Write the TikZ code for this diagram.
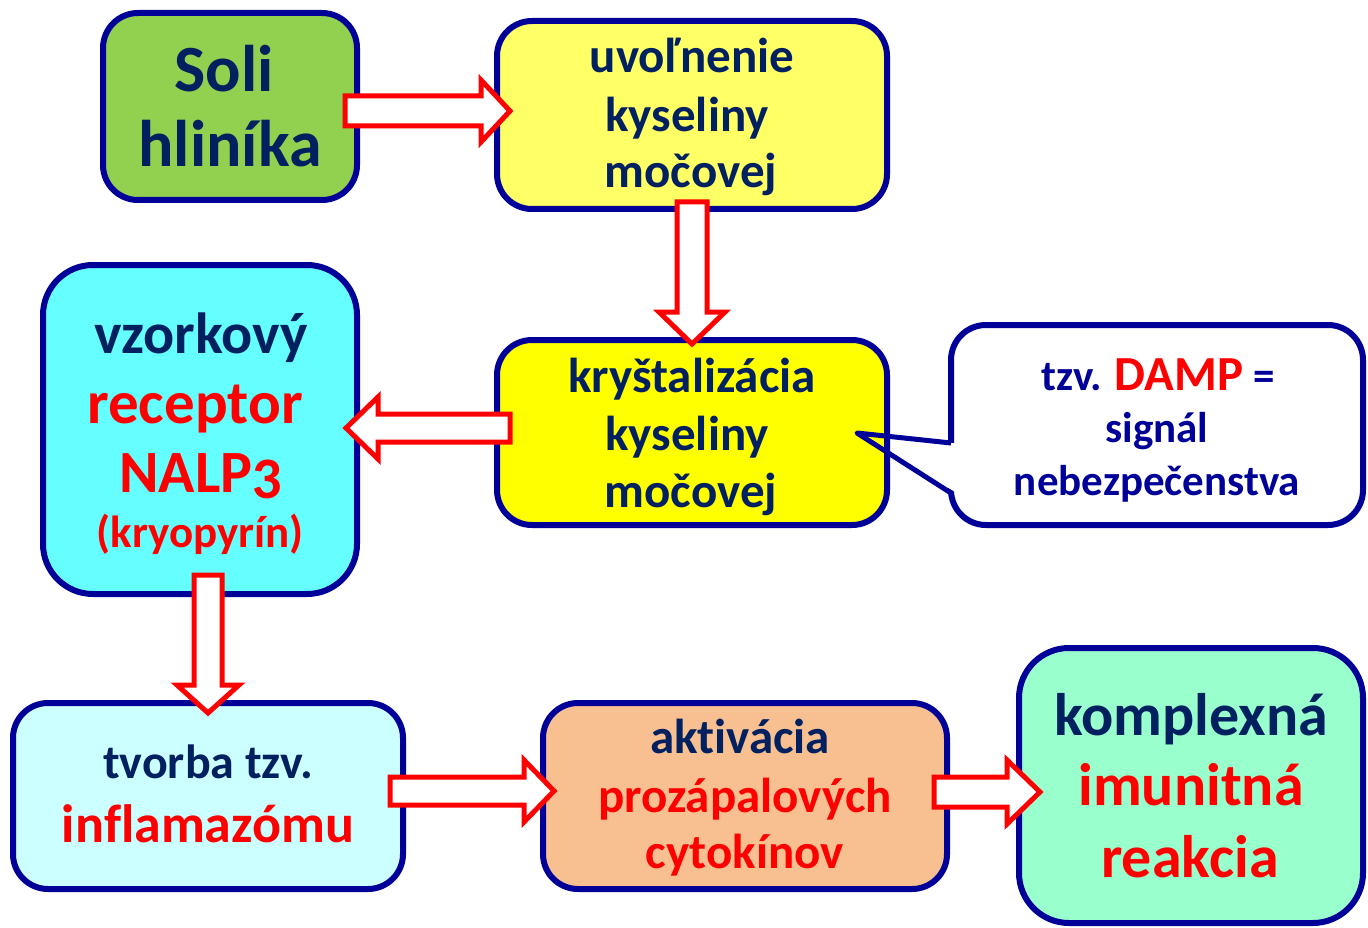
\documentclass[tikz,border=0pt]{standalone}
\usepackage{fontspec}
\setmainfont{Carlito}[Ligatures=NoCommon]
\definecolor{bnavy}{HTML}{000099}
\definecolor{tnavy}{HTML}{002060}
\definecolor{tred}{HTML}{FF0000}
\definecolor{cgreen}{HTML}{92D050}
\definecolor{cyel1}{HTML}{FFFF66}
\definecolor{cyel2}{HTML}{FFFF00}
\definecolor{ccyan}{HTML}{66FFFF}
\definecolor{clcyan}{HTML}{CCFFFF}
\definecolor{corange}{HTML}{F8C090}
\definecolor{cmint}{HTML}{99FFCC}
\newcommand{\myfs}[1]{\fontsize{#1}{#1}\selectfont\bfseries}
\newcommand{\harr}[6]{\draw[blockarrow] (#1,{#3-(#4)}) -- ({#2-(#6)},{#3-(#4)}) -- ({#2-(#6)},{#3-(#5)}) -- (#2,#3) -- ({#2-(#6)},{#3+(#5)}) -- ({#2-(#6)},{#3+(#4)}) -- (#1,{#3+(#4)}) -- cycle;}
\newcommand{\varr}[6]{\draw[blockarrow] ({#3-(#4)},#1) -- ({#3-(#4)},{#2-(#6)}) -- ({#3-(#5)},{#2-(#6)}) -- (#3,#2) -- ({#3+(#5)},{#2-(#6)}) -- ({#3+(#4)},{#2-(#6)}) -- ({#3+(#4)},#1) -- cycle;}
\tikzset{
  box/.style={draw=bnavy, line width=6pt, rounded corners=35pt, inner sep=0pt},
  txt/.style={anchor=base, inner sep=0pt},
  blockarrow/.style={draw=tred, fill=white, line width=5pt, line join=miter}
}
\begin{document}
\begin{tikzpicture}[x=1pt,y=-1pt]
\useasboundingbox (0,0) rectangle (1368,928);
% boxes
\node[box, fill=cgreen, minimum width=254pt, minimum height=187pt] (soli) at (230,106.5) {};
\node[box, fill=cyel1, minimum width=390pt, minimum height=188pt] (uvol) at (692,115) {};
\node[box, fill=cyel2, minimum width=390pt, minimum height=185pt] (kryst) at (692,432.5) {};
\node[box, fill=ccyan, rounded corners=50pt, minimum width=314pt, minimum height=329pt] (recep) at (200,429.5) {};
\node[box, fill=white, minimum width=412pt, minimum height=200pt] (damp) at (1157,425) {};
\node[box, fill=clcyan, minimum width=390pt, minimum height=186pt] (infl) at (208,796) {};
\node[box, fill=corange, minimum width=404pt, minimum height=186pt] (cyto) at (745,796) {};
\node[box, fill=cmint, rounded corners=50pt, minimum width=344pt, minimum height=275pt] (imun) at (1191,785.5) {};
% callout pointer
\coordinate (tip) at (857,433);
\coordinate (j1) at (951,443);
\coordinate (j2) at (951,493);
\fill[white] (894,436.8) -- (956,443.5) -- (956,492.5) -- (894,456) -- cycle;
\draw[bnavy, line width=5pt, line join=round] (j1) -- (tip) -- (j2);
% texts
\node[txt, tnavy, font=\myfs{66}] (s1) at (224,92) {Soli};
\node[txt, tnavy, font=\myfs{66}] (s2) at (230,167) {hliníka};
\node[txt, tnavy, font=\myfs{49}] (u1) at (692,73) {uvoľnenie};
\node[txt, tnavy, font=\myfs{49}] (u2) at (687,132) {kyseliny};
\node[txt, tnavy, font=\myfs{49}] (u3) at (691,188) {močovej};
\node[txt, tnavy, font=\myfs{49}] (k1) at (692,392) {kryštalizácia};
\node[txt, tnavy, font=\myfs{49}] (k2) at (687,450) {kyseliny};
\node[txt, tnavy, font=\myfs{49}] (k3) at (691,507) {močovej};
\node[txt, tnavy, font=\myfs{58}] (r1) at (201,353) {vzorkový};
\node[txt, tred, font=\myfs{61}] (r2) at (195,423) {receptor};
\node[txt, tred, font=\myfs{60}] (r3) at (201,492) {NALP{\addfontfeatures{Numbers=OldStyle}3}};
\node[txt, tred, font=\myfs{45}] (r4) at (200,547) {(kryopyrín)};
\node[txt, font=\myfs{43}] (d1) at (1158,390) {\textcolor{bnavy}{tzv.} \textcolor{tred}{\fontsize{49}{49}\selectfont DAMP} \textcolor{bnavy}{=}};
\node[txt, bnavy, font=\myfs{43}] (d2) at (1157,442) {signál};
\node[txt, bnavy, font=\myfs{43}] (d3) at (1157,495) {nebezpečenstva};
\node[txt, tnavy, font=\myfs{48}] (i1) at (208,778) {tvorba tzv.};
\node[txt, tred, font=\myfs{54}] (i2) at (208,842) {inflamazómu};
\node[txt, tnavy, font=\myfs{49}] (c1) at (740,753) {aktivácia};
\node[txt, tred, font=\myfs{49}] (c2) at (745,812) {prozápalových};
\node[txt, tred, font=\myfs{49}] (c3) at (745,868) {cytokínov};
\node[txt, tnavy, font=\myfs{60}] (m1) at (1191,735) {komplexná};
\node[txt, tred, font=\myfs{60}] (m2) at (1191,805) {imunitná};
\node[txt, tred, font=\myfs{60}] (m3) at (1190,877) {reakcia};
% block arrows
\harr{345}{510}{111}{15}{31}{29}
\varr{202}{344}{692}{15}{33}{32}
\harr{510}{346}{428}{14}{31}{-32}
\varr{575}{713}{208}{14}{31}{28}
\harr{390}{554}{791}{14}{31}{30}
\harr{934}{1040}{792}{15}{32}{33}
\end{tikzpicture}
\end{document}
